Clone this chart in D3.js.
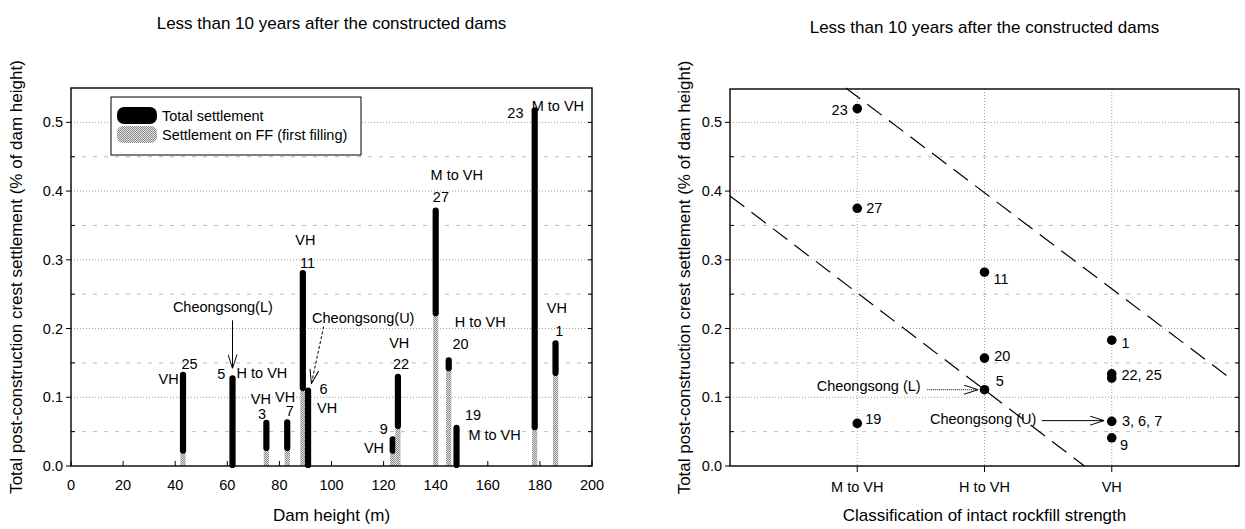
<!DOCTYPE html>
<html lang="en">
<head>
<meta charset="utf-8">
<title>Post-construction crest settlement</title>
<script src="https://d3js.org/d3.v7.min.js"></script>
<style>
  body { margin: 0; background: #fff; }
  svg { display: block; font-family: "Liberation Sans", Arial, sans-serif; }
  .frame { fill: none; stroke: #000; stroke-width: 1.4px; }
  .grid-major { stroke: #888; stroke-width: 0.8px; stroke-dasharray: 1,2; }
  .grid-minor { stroke: #aaa; stroke-width: 0.8px; stroke-dasharray: 4,7; }
  .tick { stroke: #000; stroke-width: 1px; }
  .lbl { font-size: 14.5px; fill: #000; }
  .ttl { font-size: 17px; fill: #000; }
</style>
</head>
<body>
<script>
// ---- left chart: settlement vs dam height ----
var damIds      = ["25", "5", "3", "7", "11", "6", "9", "22", "27", "20", "19", "23", "1"];
var damHeight   = [43, 62, 75, 83, 89, 91, 123.5, 125.5, 140, 145, 148, 178, 186];
var totalSettle = [0.137, 0.132, 0.067, 0.068, 0.285, 0.114, 0.043, 0.134, 0.376, 0.158, 0.060, 0.522, 0.183];
var ffSettle    = [0.018, 0, 0.022, 0.022, 0.109, 0, 0.018, 0.054, 0.218, 0.138, 0, 0.052, 0.131];
var damClass    = ["VH", "H to VH", "VH", "VH", "VH", "VH", "VH", "VH", "M to VH", "H to VH", "M to VH", "M to VH", "VH"];
var heightTicks = [0, 20, 40, 60, 80, 100, 120, 140, 160, 180, 200];
var settleTicks = [0, 0.1, 0.2, 0.3, 0.4, 0.5];

// ---- right chart: settlement vs rockfill strength ----
var strengthCats  = ["M to VH", "H to VH", "VH"];
var pointCat      = ["M to VH", "M to VH", "M to VH", "H to VH", "H to VH", "H to VH", "VH", "VH", "VH", "VH", "VH"];
var pointValue    = [0.520, 0.375, 0.062, 0.282, 0.157, 0.111, 0.183, 0.134, 0.128, 0.065, 0.041];
var pointLabel    = ["23", "27", "19", "11", "20", "5", "1", "22, 25", "", "3, 6,  7", "9"];
var upperBound    = [[0.91, 0.55], [3.95, 0.125]];
var lowerBound    = [[0.0, 0.393], [2.785, 0.0]];

// label placement (data units, offsets from the mark)
var numPos   = [[2.5, 0.148], [-4.3, 0.134], [-1.7, 0.076], [1.0, 0.080], [1.8, 0.295], [5.9, 0.112],
                [-3.4, 0.054], [1.2, 0.149], [2.0, 0.392], [4.5, 0.177], [6.3, 0.074], [-7.4, 0.514], [1.4, 0.196]];
var classPos = [[-5.5, 0.126], [11.3, 0.136], [-2.1, 0.097], [-0.8, 0.100], [1.0, 0.329], [7.3, 0.084],
                [-7.2, 0.026], [0.5, 0.179], [8.1, 0.423], [12.1, 0.209], [14.6, 0.045], [8.9, 0.524], [0.5, 0.230]];
var ptLabPos = [[-0.075, 0.518, "end"], [0.07, 0.375, "start"], [0.063, 0.068, "start"], [0.07, 0.272, "start"],
                [0.077, 0.160, "start"], [0.088, 0.124, "start"], [0.076, 0.179, "start"], [0.076, 0.132, "start"],
                [0, 0, "start"], [0.08, 0.066, "start"], [0.065, 0.030, "start"]];

var W = 1245, H = 529;
var svg = d3.select("body").append("svg").attr("width", W).attr("height", H);
var defs = svg.append("defs");

// dithered grey used for the first-filling part of the bars
var pat = defs.append("pattern").attr("id", "dither").attr("width", 2).attr("height", 2)
  .attr("patternUnits", "userSpaceOnUse");
pat.append("rect").attr("width", 2).attr("height", 2).attr("fill", "#e2e2e2");
pat.append("rect").attr("width", 1).attr("height", 1).attr("fill", "#8a8a8a");
pat.append("rect").attr("x", 1).attr("y", 1).attr("width", 1).attr("height", 1).attr("fill", "#8a8a8a");

defs.append("marker").attr("id", "vhead").attr("viewBox", "0 -5 14 10")
  .attr("refX", 14).attr("refY", 0).attr("markerWidth", 14).attr("markerHeight", 10)
  .attr("markerUnits", "userSpaceOnUse").attr("orient", "auto")
  .append("path").attr("d", "M0,-4.5L14,0L0,4.5").attr("fill", "none").attr("stroke", "#000").attr("stroke-width", 1);

function frame(g, x0, x1, y0, y1) {
  g.append("rect").attr("class", "frame").attr("x", x0).attr("y", y0)
    .attr("width", x1 - x0).attr("height", y1 - y0);
}

function hGrid(g, y, x0, x1) {
  d3.range(1, 11).forEach(function(i) {
    var v = i * 0.05;
    g.append("line").attr("class", i % 2 ? "grid-minor" : "grid-major")
      .attr("x1", x0).attr("x2", x1).attr("y1", y(v)).attr("y2", y(v));
  });
}

function yTicks(g, y, x0, x1) {
  settleTicks.forEach(function(v) {
    g.append("line").attr("class", "tick").attr("x1", x0 - 5).attr("x2", x0).attr("y1", y(v)).attr("y2", y(v));
    g.append("text").attr("class", "lbl").attr("x", x0 - 8).attr("y", y(v) + 5)
      .attr("text-anchor", "end").text(d3.format(".1f")(v));
  });
  d3.range(1, 11, 2).forEach(function(i) {
    var v = i * 0.05;
    g.append("line").attr("class", "tick").attr("x1", x0).attr("x2", x0 + 4).attr("y1", y(v)).attr("y2", y(v));
    g.append("line").attr("class", "tick").attr("x1", x1 - 4).attr("x2", x1).attr("y1", y(v)).attr("y2", y(v));
  });
  settleTicks.forEach(function(v) {
    g.append("line").attr("class", "tick").attr("x1", x1 - 4).attr("x2", x1).attr("y1", y(v)).attr("y2", y(v));
  });
}

var yTitle = "Total post-construction crest settlement (% of dam height)";

// ================= LEFT =================
var L = {x0: 71, x1: 592, y0: 88, y1: 466};
var xL = d3.scaleLinear().domain([0, 200]).range([L.x0, L.x1]);
var yL = d3.scaleLinear().domain([0, 0.55]).range([L.y1, L.y0]);
var gl = svg.append("g");

hGrid(gl, yL, L.x0, L.x1);
yTicks(gl, yL, L.x0, L.x1);
heightTicks.forEach(function(v) {
  gl.append("line").attr("class", "tick").attr("x1", xL(v)).attr("x2", xL(v)).attr("y1", L.y1).attr("y2", L.y1 - 5);
  gl.append("text").attr("class", "lbl").attr("x", xL(v)).attr("y", L.y1 + 24)
    .attr("text-anchor", "middle").text(v);
});

// bars: grey first-filling part, black remainder with rounded ends
damIds.forEach(function(id, i) {
  var x = xL(damHeight[i]);
  if (ffSettle[i] > 0) {
    gl.append("rect").attr("x", x - 2.6).attr("y", yL(ffSettle[i]))
      .attr("width", 5.2).attr("height", yL(0) - yL(ffSettle[i])).attr("fill", "url(#dither)");
  }
  gl.append("line").attr("x1", x).attr("x2", x)
    .attr("y1", yL(totalSettle[i]) + 3).attr("y2", yL(ffSettle[i]) - (ffSettle[i] > 0 ? 3 : 1))
    .attr("stroke", "#000").attr("stroke-width", 6.2).attr("stroke-linecap", "round");
  gl.append("text").attr("class", "lbl").attr("text-anchor", "middle")
    .attr("x", xL(damHeight[i] + numPos[i][0])).attr("y", yL(numPos[i][1]) + 5).text(id);
  gl.append("text").attr("class", "lbl").attr("text-anchor", "middle")
    .attr("x", xL(damHeight[i] + classPos[i][0])).attr("y", yL(classPos[i][1]) + 5).text(damClass[i]);
});

// Cheongsong annotations
gl.append("text").attr("class", "lbl").attr("text-anchor", "middle")
  .attr("x", xL(58.3)).attr("y", yL(0.232) + 5).text("Cheongsong(L)");
gl.append("line").attr("x1", xL(62)).attr("y1", yL(0.212)).attr("x2", xL(62)).attr("y2", yL(0.142))
  .attr("stroke", "#000").attr("stroke-width", 1).attr("marker-end", "url(#vhead)");
gl.append("text").attr("class", "lbl").attr("text-anchor", "middle")
  .attr("x", xL(112.2)).attr("y", yL(0.216) + 5).text("Cheongsong(U)");
gl.append("line").attr("x1", xL(97)).attr("y1", yL(0.203)).attr("x2", xL(92.3)).attr("y2", yL(0.12))
  .attr("stroke", "#000").attr("stroke-width", 1).attr("stroke-dasharray", "3,2").attr("marker-end", "url(#vhead)");

// legend
var lg = gl.append("g").attr("transform", "translate(" + (L.x0 + 40) + "," + (L.y0 + 9) + ")");
lg.append("rect").attr("width", 250).attr("height", 58).attr("fill", "#fff").attr("stroke", "#000").attr("stroke-width", 1);
lg.append("rect").attr("x", 6).attr("y", 10).attr("width", 40).attr("height", 17).attr("rx", 7).attr("fill", "#000");
lg.append("rect").attr("x", 6).attr("y", 29).attr("width", 40).attr("height", 17).attr("rx", 6).attr("fill", "url(#dither)");
lg.append("text").attr("class", "lbl").attr("x", 51).attr("y", 24).text("Total settlement");
lg.append("text").attr("class", "lbl").attr("x", 51).attr("y", 43).text("Settlement on FF (first filling)");

frame(gl, L.x0, L.x1, L.y0, L.y1);

gl.append("text").attr("class", "ttl").attr("x", (L.x0 + L.x1) / 2).attr("y", 29).attr("text-anchor", "middle")
  .text("Less than 10 years after the constructed dams");
gl.append("text").attr("class", "ttl").attr("x", (L.x0 + L.x1) / 2).attr("y", 521).attr("text-anchor", "middle")
  .text("Dam height (m)");
gl.append("text").attr("class", "ttl").attr("transform", "translate(22," + ((L.y0 + L.y1) / 2) + ") rotate(-90)")
  .attr("text-anchor", "middle").text(yTitle);

// ================= RIGHT =================
var R = {x0: 730, x1: 1239, y0: 89, y1: 466};
var xR = d3.scaleLinear().domain([0, 4]).range([R.x0, R.x1]);
var yR = d3.scaleLinear().domain([0, 0.55]).range([R.y1, R.y0 - 1]);
var catPos = d3.scalePoint().domain(strengthCats).range([xR(1), xR(3)]);
var gr = svg.append("g");

hGrid(gr, yR, R.x0, R.x1);
strengthCats.forEach(function(c) {
  gr.append("line").attr("class", "grid-major").attr("x1", catPos(c)).attr("x2", catPos(c))
    .attr("y1", R.y0).attr("y2", R.y1);
  gr.append("line").attr("class", "tick").attr("x1", catPos(c)).attr("x2", catPos(c))
    .attr("y1", R.y1).attr("y2", R.y1 + 6);
  gr.append("text").attr("class", "lbl").attr("x", catPos(c)).attr("y", R.y1 + 26)
    .attr("text-anchor", "middle").text(c);
});
yTicks(gr, yR, R.x0, R.x1);

// boundary lines
[upperBound, lowerBound].forEach(function(seg) {
  gr.append("line").attr("x1", xR(seg[0][0])).attr("y1", yR(seg[0][1]))
    .attr("x2", xR(seg[1][0])).attr("y2", yR(seg[1][1]))
    .attr("stroke", "#000").attr("stroke-width", 1.2).attr("stroke-dasharray", "18,9");
});

pointValue.forEach(function(v, i) {
  var cx = catPos(pointCat[i]);
  gr.append("circle").attr("cx", cx).attr("cy", yR(v)).attr("r", 4.8).attr("fill", "#000");
  if (pointLabel[i]) {
    var p = ptLabPos[i];
    gr.append("text").attr("class", "lbl").attr("text-anchor", p[2])
      .attr("x", xR(strengthCats.indexOf(pointCat[i]) + 1 + p[0])).attr("y", yR(p[1]) + 5).text(pointLabel[i]);
  }
});

// Cheongsong arrows
gr.append("text").attr("class", "lbl").attr("text-anchor", "middle").attr("fill", "#222")
  .attr("font-size", 14).attr("x", xR(1.09)).attr("y", yR(0.116) + 5).text("Cheongsong (L)");
gr.append("line").attr("x1", xR(1.55)).attr("y1", yR(0.111)).attr("x2", xR(1.95)).attr("y2", yR(0.111))
  .attr("stroke", "#000").attr("stroke-width", 1).attr("stroke-dasharray", "1,1").attr("marker-end", "url(#vhead)");
gr.append("text").attr("class", "lbl").attr("text-anchor", "middle").attr("fill", "#222")
  .attr("font-size", 14).attr("x", xR(1.99)).attr("y", yR(0.069) + 5).text("Cheongsong (U)");
gr.append("line").attr("x1", xR(2.45)).attr("y1", yR(0.066)).attr("x2", xR(2.94)).attr("y2", yR(0.066))
  .attr("stroke", "#000").attr("stroke-width", 1).attr("marker-end", "url(#vhead)");

frame(gr, R.x0, R.x1, R.y0, R.y1);

gr.append("text").attr("class", "ttl").attr("x", (R.x0 + R.x1) / 2).attr("y", 33).attr("text-anchor", "middle")
  .text("Less than 10 years after the constructed dams");
gr.append("text").attr("class", "ttl").attr("x", (R.x0 + R.x1) / 2).attr("y", 521).attr("text-anchor", "middle")
  .text("Classification of intact rockfill strength");
gr.append("text").attr("class", "ttl").attr("transform", "translate(690," + ((R.y0 + R.y1) / 2) + ") rotate(-90)")
  .attr("text-anchor", "middle").text(yTitle);
</script>
</body>
</html>
